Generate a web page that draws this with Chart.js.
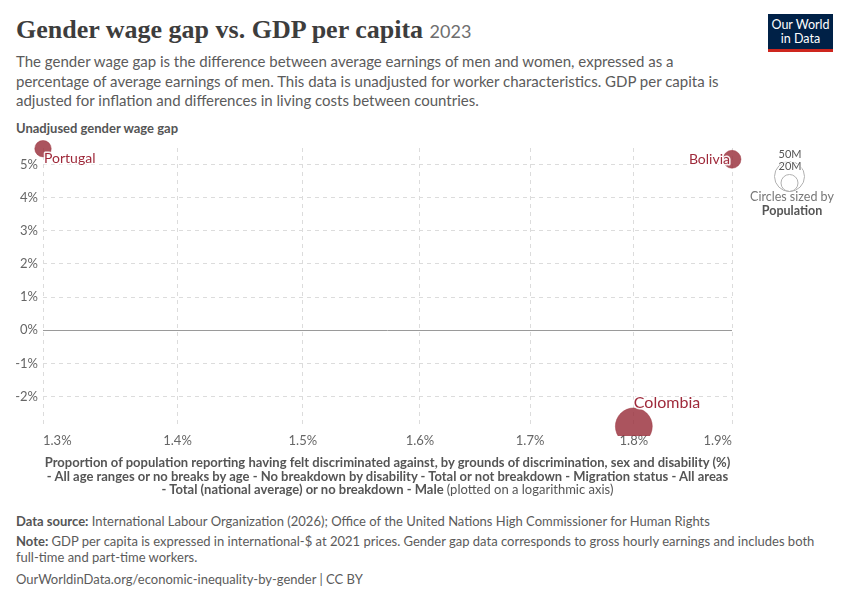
<!DOCTYPE html>
<html>
<head>
<meta charset="utf-8">
<script src="https://cdn.jsdelivr.net/npm/chart.js@4/dist/chart.umd.min.js"></script>
<style>
  html, body { margin:0; padding:0; background:#fff; }
  body { width:850px; height:600px; position:relative; overflow:hidden; font-family: Lato, "Noto Sans", sans-serif; color:#5b5b5b; }
  .abs { position:absolute; white-space:nowrap; }
  #title { left:16px; top:14px; font-family:"Liberation Serif", serif; font-weight:bold; font-size:26px; color:#3d3d3d; line-height:32px; }
  #title span { font-family:Lato, sans-serif; font-weight:normal; font-size:18px; color:#6e6e6e; }
  #subtitle { left:16px; top:52px; font-size:15px; line-height:19.5px; color:#5b5b5b; }
  #logo { left:768px; top:14px; width:65px; background:#002147; border-bottom:3px solid #ce261e; color:#fff; font-size:12.5px; line-height:14px; text-align:center; padding-top:4px; box-sizing:content-box; height:31px; }
  #ytitle { left:16px; top:120px; font-size:13px; font-weight:bold; color:#555; }
  #xtitle { left:38px; top:456px; width:699px; text-align:center; font-size:13px; line-height:13.6px; font-weight:bold; color:#555; white-space:normal; }
  #xtitle span { font-weight:normal; }
  #footer { left:16px; top:513px; font-size:13px; color:#5b5b5b; line-height:16.5px; }
  #footer b { font-weight:bold; color:#555; }
  #chartwrap { position:absolute; left:0; top:120px; width:850px; height:340px; }
  #legend { left:740px; top:140px; z-index:5; }
</style>
</head>
<body>
<div id="title" class="abs">Gender wage gap vs. GDP per capita <span>2023</span></div>
<div id="subtitle" class="abs">The gender wage gap is the difference between average earnings of men and women, expressed as a<br>percentage of average earnings of men. This data is unadjusted for worker characteristics. GDP per capita is<br>adjusted for inflation and differences in living costs between countries.</div>
<div id="logo" class="abs">Our World<br>in Data</div>
<div id="ytitle" class="abs">Unadjused gender wage gap</div>
<div id="chartwrap"><canvas id="c" width="850" height="340"></canvas></div>
<svg id="legend" class="abs" width="110" height="80" viewBox="0 0 110 80">
  <circle cx="49.5" cy="36.5" r="15" fill="none" stroke="#b0b0b0" stroke-width="1"/>
  <circle cx="49.5" cy="43" r="8.5" fill="none" stroke="#b0b0b0" stroke-width="1"/>
  <text x="50" y="18" text-anchor="middle" font-family="Lato" font-size="11" fill="#555" stroke="#fff" stroke-width="2" paint-order="stroke">50M</text>
  <text x="50" y="30" text-anchor="middle" font-family="Lato" font-size="11" fill="#555" stroke="#fff" stroke-width="2" paint-order="stroke">20M</text>
  <text x="52" y="61" text-anchor="middle" font-family="Lato" font-size="12.5" fill="#777">Circles sized by</text>
  <text x="52" y="75" text-anchor="middle" font-family="Lato" font-size="12.5" font-weight="bold" fill="#555">Population</text>
</svg>
<div id="xtitle" class="abs">Proportion of population reporting having felt discriminated against, by grounds of discrimination, sex and disability (%)<br>- All age ranges or no breaks by age - No breakdown by disability - Total or not breakdown - Migration status - All areas<br>- Total (national average) or no breakdown - Male <span>(plotted on a logarithmic axis)</span></div>
<div id="footer" class="abs"><b>Data source:</b> International Labour Organization (2026); Office of the United Nations High Commissioner for Human Rights<br><div style="height:3px"></div><b>Note:</b> GDP per capita is expressed in international-$ at 2021 prices. Gender gap data corresponds to gross hourly earnings and includes both<br>full-time and part-time workers.<br><div style="height:5px"></div>OurWorldinData.org/economic-inequality-by-gender | CC BY</div>

<script>
// ---- data ----
const countries = ["Portugal", "Bolivia", "Colombia"];
const discriminationPct = [1.3, 1.9, 1.8];      // x (log axis), %
const wageGapPct = [5.48, 5.16, -2.9];          // y, %
const populationM = [10.4, 12.4, 52.3];         // bubble size, millions
const xTicks = [1.3, 1.4, 1.5, 1.6, 1.7, 1.8, 1.9];
const yTicks = [-2, -1, 0, 1, 2, 3, 4, 5];

const RADIUS_PER_SQRT_M = 2.55;
const points = countries.map((c, i) => ({
  x: discriminationPct[i], y: wageGapPct[i], r: Math.sqrt(populationM[i]) * RADIUS_PER_SQRT_M, name: c
}));

const labelPlugin = {
  id: 'pointLabels',
  afterDatasetsDraw(chart) {
    const ctx = chart.ctx;
    const meta = chart.getDatasetMeta(0);
    meta.data.forEach((el, i) => {
      const name = countries[i];
      let x = el.x, y = el.y, align = 'left', size = 14;
      if (name === 'Portugal') { x = el.x + 1; y = el.y + 10; align = 'left'; }
      else if (name === 'Bolivia') { x = el.x - 2; y = el.y; align = 'right'; }
      else if (name === 'Colombia') { x = el.x; y = el.y - 23; align = 'left'; size = 16; }
      ctx.save();
      ctx.font = size + 'px Lato';
      ctx.textAlign = align;
      ctx.textBaseline = 'middle';
      ctx.lineJoin = 'round';
      ctx.strokeStyle = 'rgba(255,255,255,0.9)';
      ctx.lineWidth = 3;
      ctx.strokeText(name, x, y);
      ctx.fillStyle = '#9f2a3b';
      ctx.fillText(name, x, y);
      ctx.restore();
    });
  }
};

new Chart(document.getElementById('c'), {
  type: 'bubble',
  data: {
    datasets: [{
      data: points,
      backgroundColor: 'rgba(152,46,58,0.82)',
      borderColor: 'rgba(152,46,58,0.9)',
      borderWidth: 0.5,
      clip: { left: 20, top: 20, right: 20, bottom: 8 }
    }]
  },
  plugins: [labelPlugin],
  options: {
    responsive: false,
    animation: false,
    events: [],
    layout: { padding: { left: 0, right: 118, top: 28, bottom: 0 } },
    plugins: { legend: { display: false }, tooltip: { enabled: false } },
    scales: {
      x: {
        type: 'logarithmic',
        min: 1.3, max: 1.9,
        z: 1,
        afterBuildTicks: s => { s.ticks = xTicks.map(v => ({ value: v })); },
        afterFit: s => { s.height = 32; },
        ticks: {
          align: 'inner', padding: 5, maxRotation: 0, autoSkip: false,
          color: '#666', font: { family: 'Lato', size: 13 },
          callback: v => Number(v).toFixed(1) + '%'
        },
        grid: { color: '#dcdcdc', lineWidth: 1, drawTicks: false },
        border: { display: false, dash: [4, 4] }
      },
      y: {
        type: 'linear',
        min: -2.95, max: 5.5,
        afterBuildTicks: s => { s.ticks = yTicks.map(v => ({ value: v })); },
        afterFit: s => { s.width = 43; },
        ticks: {
          padding: 5, color: '#666', font: { family: 'Lato', size: 13 },
          callback: v => v + '%'
        },
        grid: {
          drawTicks: false, lineWidth: 1,
          color: c => (c.tick && c.tick.value === 0) ? '#9a9a9a' : '#dcdcdc'
        },
        border: { display: false, dash: c => (c.tick && c.tick.value === 0) ? [] : [4, 4] }
      }
    }
  }
});
</script>
</body>
</html>
